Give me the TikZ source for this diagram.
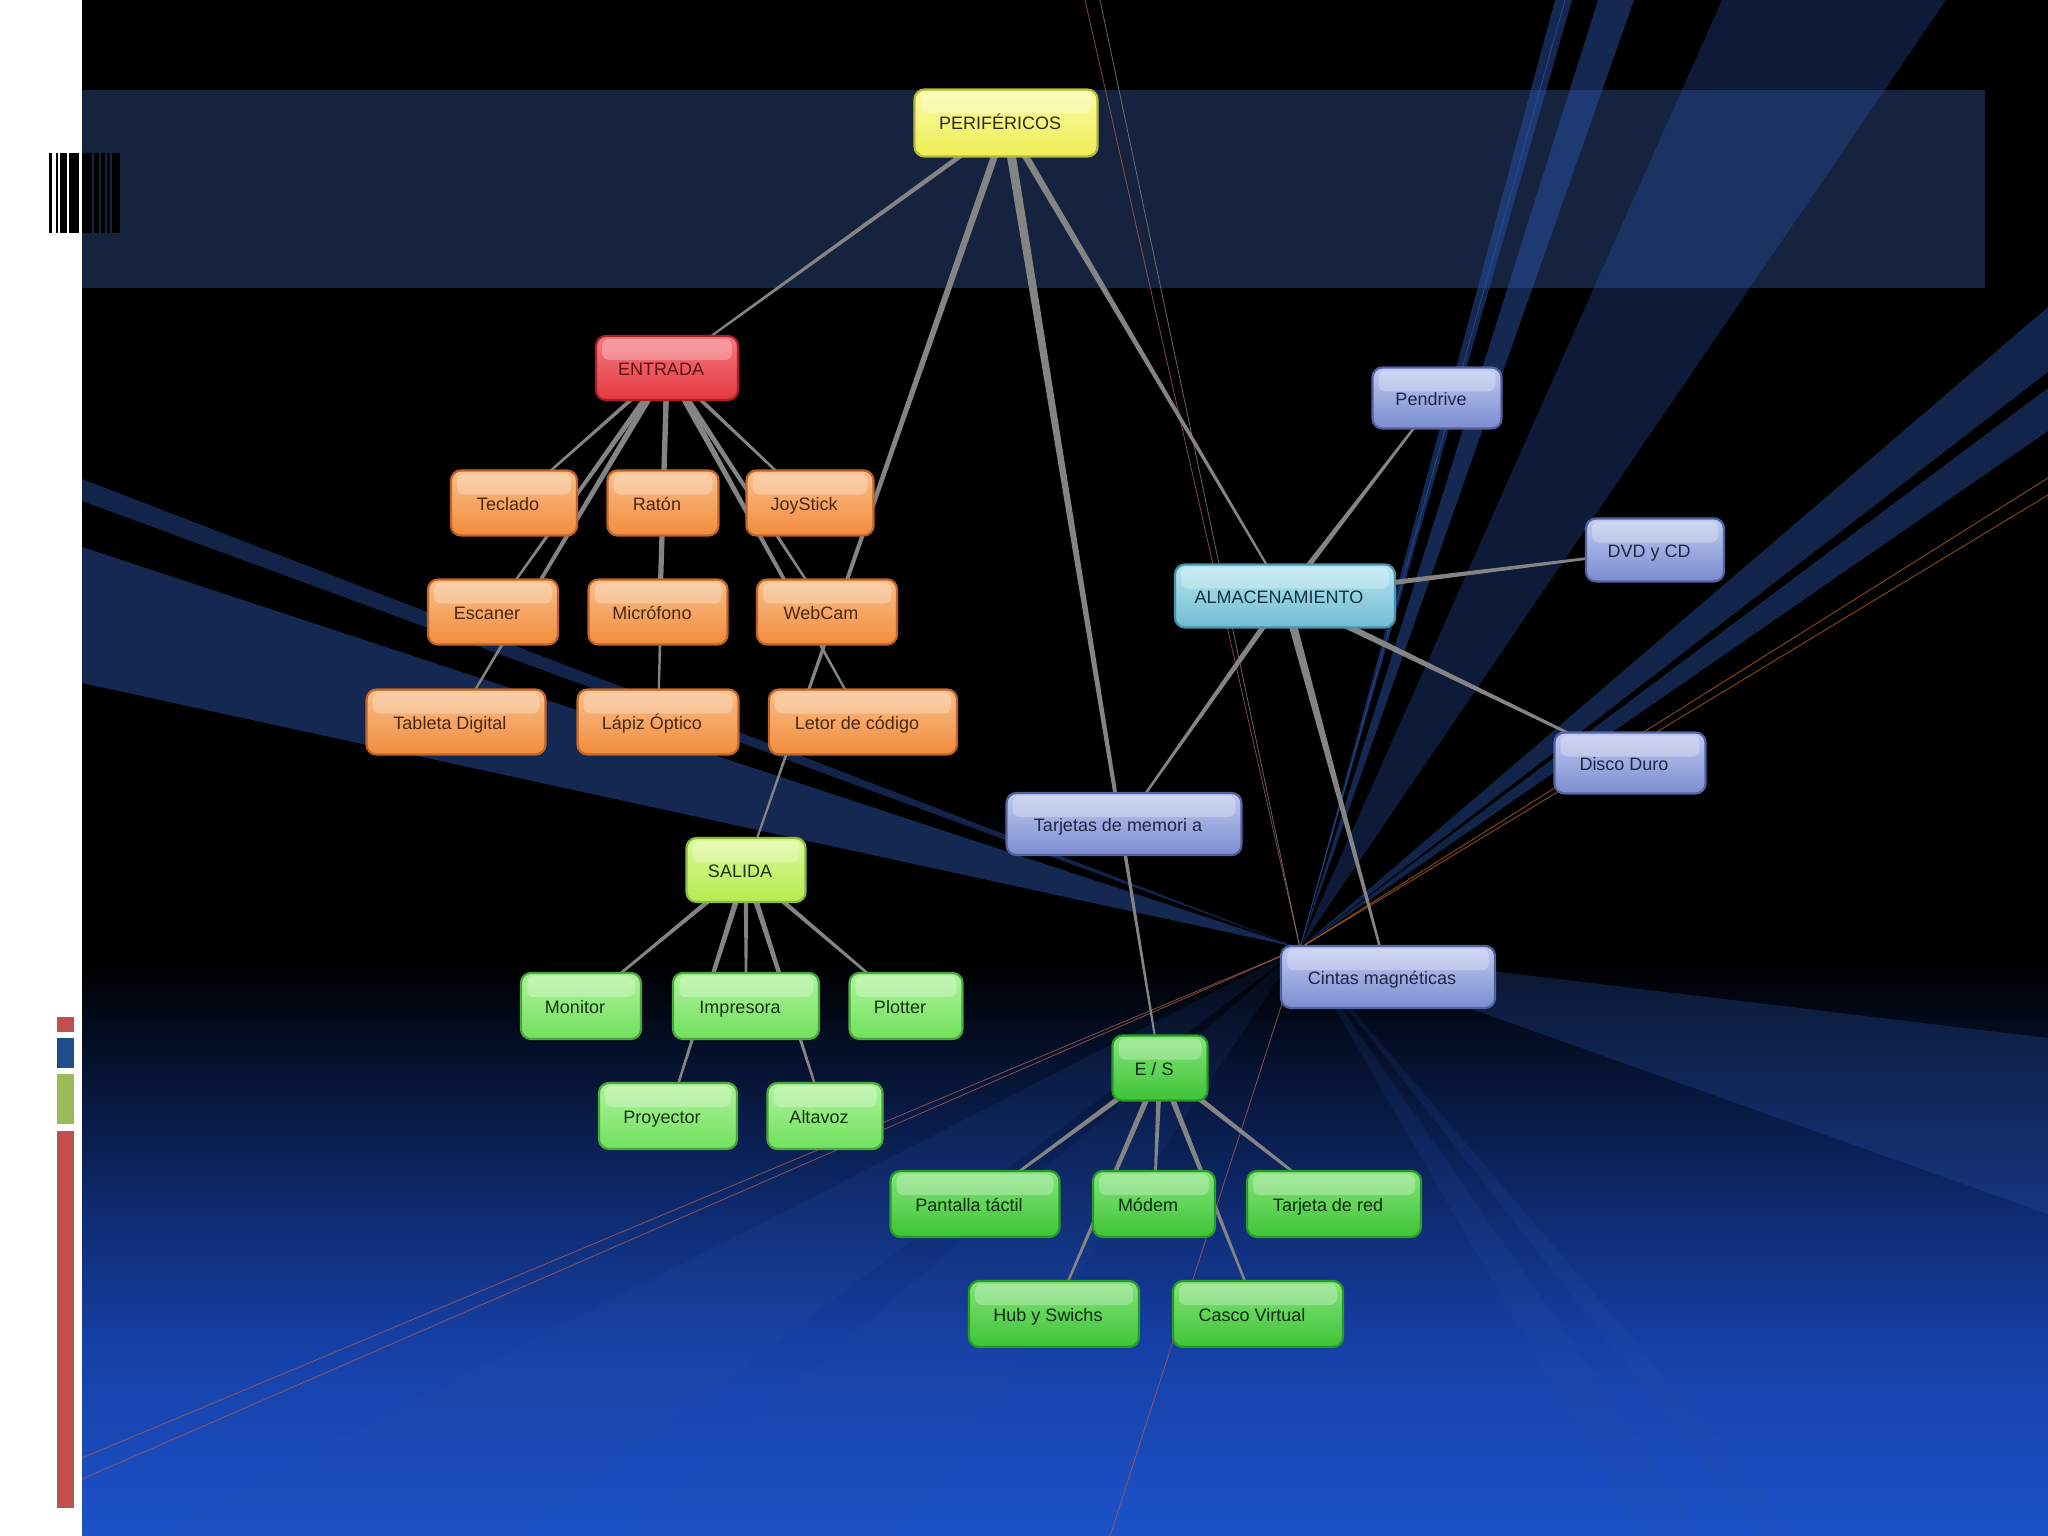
\documentclass[tikz,border=0pt]{standalone}
\usepackage{fontspec}
\setmainfont{Liberation Sans}
\usetikzlibrary{calc}
\pgfdeclarelayer{bg}
\pgfdeclarelayer{edges}
\pgfsetlayers{bg,edges,main}
% background colours
\definecolor{bgB}{HTML}{1C52C8}
\definecolor{bgC}{HTML}{1640A6}
\definecolor{bgD}{HTML}{0D2868}
\definecolor{bgE}{HTML}{061230}
\definecolor{band}{HTML}{16233F}
\definecolor{raycol}{RGB}{40,80,165}
\definecolor{thinred}{RGB}{170,90,80}
\definecolor{edgecol}{RGB}{132,132,132}
\definecolor{barred}{HTML}{C0504D}
\definecolor{barblue}{HTML}{1F4E8C}
\definecolor{bargreen}{HTML}{9BBB59}
% node colours
\definecolor{yelF}{HTML}{EEEE55}\definecolor{yelT}{HTML}{FBFBA8}\definecolor{yelB}{HTML}{B8B83A}\definecolor{yelX}{HTML}{2B2B10}
\definecolor{redF}{HTML}{E53840}\definecolor{redT}{HTML}{F47A80}\definecolor{redB}{HTML}{A82028}\definecolor{redX}{HTML}{5A1010}
\definecolor{orgF}{HTML}{F28C3C}\definecolor{orgT}{HTML}{F9C08C}\definecolor{orgB}{HTML}{C0642A}\definecolor{orgX}{HTML}{4A2810}
\definecolor{salF}{HTML}{B4EC50}\definecolor{salT}{HTML}{DDF99A}\definecolor{salB}{HTML}{88BC3C}\definecolor{salX}{HTML}{1C3410}
\definecolor{lgrF}{HTML}{70E05C}\definecolor{lgrT}{HTML}{B0F49C}\definecolor{lgrB}{HTML}{48A83C}\definecolor{lgrX}{HTML}{143210}
\definecolor{dgrF}{HTML}{3EC436}\definecolor{dgrT}{HTML}{84E47A}\definecolor{dgrB}{HTML}{289A28}\definecolor{dgrX}{HTML}{0C2A0C}
\definecolor{vioF}{HTML}{7C8CD0}\definecolor{vioT}{HTML}{C0CAF0}\definecolor{vioB}{HTML}{5562A0}\definecolor{vioX}{HTML}{1E2545}
\definecolor{cyaF}{HTML}{72BCD2}\definecolor{cyaT}{HTML}{B8E6F2}\definecolor{cyaB}{HTML}{4892AA}\definecolor{cyaX}{HTML}{123442}
\pgfdeclareverticalshading{skyfade}{100bp}{color(0bp)=(bgB); color(25bp)=(bgB); color(40bp)=(bgC); color(52bp)=(bgD); color(62bp)=(bgE); color(70bp)=(black); color(100bp)=(black)}
\tikzset{
  box/.style={rounded corners=10pt, line width=2.2pt, inner sep=0pt,
    minimum height=64pt, font=\fontsize{18}{20}\selectfont,
    text height=16pt, text depth=2pt,
    execute at end node={\kern12pt},
    path picture={\fill[white,opacity=.28,rounded corners=7pt]
      ([xshift=6pt,yshift=-3pt]path picture bounding box.north west) rectangle
      ([xshift=-6pt,yshift=-24pt]path picture bounding box.north east);}},
  yelbox/.style={box, draw=yelB, top color=yelT, bottom color=yelF, text=yelX},
  redbox/.style={box, draw=redB, top color=redT, bottom color=redF, text=redX},
  orgbox/.style={box, draw=orgB, top color=orgT, bottom color=orgF, text=orgX},
  salbox/.style={box, draw=salB, top color=salT, bottom color=salF, text=salX},
  lgrbox/.style={box, draw=lgrB, top color=lgrT, bottom color=lgrF, text=lgrX},
  dgrbox/.style={box, draw=dgrB, top color=dgrT, bottom color=dgrF, text=dgrX},
  viobox/.style={box, draw=vioB, top color=vioT, bottom color=vioF, text=vioX},
  cyabox/.style={box, draw=cyaB, top color=cyaT, bottom color=cyaF, text=cyaX},
  ray/.style={fill=raycol, fill opacity=#1},
  ray/.default=0.45,
  hair/.style={draw=thinred, line width=0.8pt, opacity=0.8},
}
\newcommand\taperline[3][3]{\fill[edgecol] ($(#2)!#1pt!90:(#3)$) -- ($(#2)!#1pt!-90:(#3)$) -- ($(#3)!0.9pt!90:(#2)$) -- ($(#3)!0.9pt!-90:(#2)$) -- cycle;}
\begin{document}
\begin{tikzpicture}[x=1pt,y=-1pt]
\useasboundingbox (0,0) rectangle (2048,1536);
% ---------------- nodes
\node[yelbox, minimum width=183pt, minimum height=67pt] (per) at (1006,123) {PERIFÉRICOS};
\node[redbox, minimum width=142pt] (ent) at (667,368) {ENTRADA};
\node[orgbox, minimum width=126pt, minimum height=65pt] (tec) at (514,503) {Teclado};
\node[orgbox, minimum width=111pt, minimum height=65pt] (rat) at (663,503) {Ratón};
\node[orgbox, minimum width=127pt, minimum height=65pt] (joy) at (810,503) {JoyStick};
\node[orgbox, minimum width=130pt, minimum height=65pt] (esc) at (493,612) {Escaner};
\node[orgbox, minimum width=139pt, minimum height=65pt] (mic) at (658,612) {Micrófono};
\node[orgbox, minimum width=140pt, minimum height=65pt] (web) at (827,612) {WebCam};
\node[orgbox, minimum width=179pt, minimum height=65pt] (tab) at (456,722) {Tableta Digital};
\node[orgbox, minimum width=161pt, minimum height=65pt] (lap) at (658,722) {Lápiz Óptico};
\node[orgbox, minimum width=188pt, minimum height=65pt] (let) at (863,722) {Letor de código};
\node[salbox, minimum width=119pt] (sal) at (746,870) {SALIDA};
\node[lgrbox, minimum width=120pt, minimum height=66pt] (mon) at (581,1006) {Monitor};
\node[lgrbox, minimum width=146pt, minimum height=66pt] (imp) at (746,1006) {Impresora};
\node[lgrbox, minimum width=113pt, minimum height=66pt] (plo) at (906,1006) {Plotter};
\node[lgrbox, minimum width=138pt, minimum height=66pt] (pro) at (668,1116) {Proyector};
\node[lgrbox, minimum width=115pt, minimum height=66pt] (alt) at (825,1116) {Altavoz};
\node[cyabox, minimum width=220pt, minimum height=63pt] (alm) at (1285,596) {ALMACENAMIENTO};
\node[viobox, minimum width=129pt, minimum height=61pt] (pen) at (1437,398) {Pendrive};
\node[viobox, minimum width=138pt, minimum height=63pt] (dvd) at (1655,550) {DVD y CD};
\node[viobox, minimum width=151pt, minimum height=61pt] (dis) at (1630,763) {Disco Duro};
\node[viobox, minimum width=235pt, minimum height=62pt] (tar) at (1124,824) {Tarjetas de memori a};
\node[viobox, minimum width=214pt, minimum height=62pt] (cin) at (1388,977) {Cintas magnéticas};
\node[dgrbox, minimum width=95pt, minimum height=65pt] (es) at (1160,1068) {E / S};
\node[dgrbox, minimum width=169pt, minimum height=66pt] (pan) at (975,1204) {Pantalla táctil};
\node[dgrbox, minimum width=122pt, minimum height=66pt] (mod) at (1154,1204) {Módem};
\node[dgrbox, minimum width=174pt, minimum height=66pt] (red) at (1334,1204) {Tarjeta de red};
\node[dgrbox, minimum width=170pt, minimum height=66pt] (hub) at (1054,1314) {Hub y Swichs};
\node[dgrbox, minimum width=170pt, minimum height=66pt] (cas) at (1258,1314) {Casco Virtual};
% ---------------- background
\begin{pgfonlayer}{bg}
\begin{scope}
\clip (0,0) rectangle (2048,1536);
\fill[black] (0,0) rectangle (2048,1536);
\shade[shading=skyfade] (0,900) rectangle (2048,1536);
\fill[band] (82,90) rectangle (1985,288);
\coordinate (P) at (1300,948);
\fill[ray=0.45] (82,479) -- (82,501) -- (P) -- cycle;
\fill[ray=0.5] (82,547) -- (82,683) -- (P) -- cycle;
\fill[ray=0.5] (1555,0) -- (1572,0) -- (P) -- cycle;
\fill[ray=0.5] (1598,0) -- (1634,0) -- (P) -- cycle;
\fill[ray=0.35] (1722,0) -- (1946,0) -- (P) -- cycle;
\fill[ray=0.45] (2048,307) -- (2048,372) -- (P) -- cycle;
\fill[ray=0.45] (2048,388) -- (2048,431) -- (P) -- cycle;
\fill[ray=0.3] (2048,1038) -- (2048,1214) -- (P) -- cycle;
\fill[ray=0.15] (1640,1536) -- (1705,1536) -- (P) -- cycle;
\fill[ray=0.15] (1760,1536) -- (1800,1536) -- (P) -- cycle;
\fill[ray=0.15] (150,1536) -- (520,1536) -- (P) -- cycle;
\fill[ray=0.12] (620,1536) -- (900,1536) -- (P) -- cycle;
\draw[hair] (P) -- (1085,0);
\draw[hair, draw=gray] (P) -- (1100,0);
\draw[hair] (P) -- (82,1458);
\draw[hair] (P) -- (82,1479);
\draw[hair, draw=orgB] (P) -- (2048,478);
\draw[hair, draw=orgB] (P) -- (2048,495);
\draw[hair] (P) -- (1110,1536);
\draw[hair, draw=raycol] (P) -- (1565,0);
\end{scope}
% left white strip and bars
\fill[white] (0,0) rectangle (82,1536);
\fill[barred] (57,1017) rectangle (74,1032);
\fill[barblue] (57,1038) rectangle (74,1068);
\fill[bargreen] (57,1074) rectangle (74,1124);
\fill[barred] (57,1131) rectangle (74,1508);
% barcode
\foreach \a/\b in {49.3/51.7, 55.7/58, 60.3/66.7, 68.7/79.3, 82/92, 93.5/99, 101/104.5, 106.5/110, 111.5/120}
  \fill[black] (\a,153) rectangle (\b,233);
\end{pgfonlayer}
% ---------------- connectors
\begin{pgfonlayer}{edges}
\taperline[2.6]{per}{ent}
\taperline[3.6]{per}{sal}
\taperline[3.6]{per}{alm}
\taperline[4.6]{per}{es}
\taperline[2.2]{ent}{tec}
\taperline[2.6]{ent}{rat}
\taperline[2.2]{ent}{joy}
\taperline[3]{ent}{esc}
\taperline[2.6]{ent}{mic}
\taperline[3]{ent}{web}
\taperline[3.2]{ent}{tab}
\taperline[2.8]{ent}{lap}
\taperline[3.2]{ent}{let}
\taperline[2.6]{sal}{mon}
\taperline[2.6]{sal}{imp}
\taperline[2.6]{sal}{plo}
\taperline[3]{sal}{pro}
\taperline[3]{sal}{alt}
\taperline[3]{alm}{pen}
\taperline[3.2]{alm}{dvd}
\taperline[3.6]{alm}{dis}
\taperline[3]{alm}{tar}
\taperline[4.4]{alm}{cin}
\taperline[3]{es}{pan}
\taperline[2.8]{es}{mod}
\taperline[3]{es}{red}
\taperline[3]{es}{hub}
\taperline[3]{es}{cas}
\end{pgfonlayer}
\end{tikzpicture}
\end{document}
